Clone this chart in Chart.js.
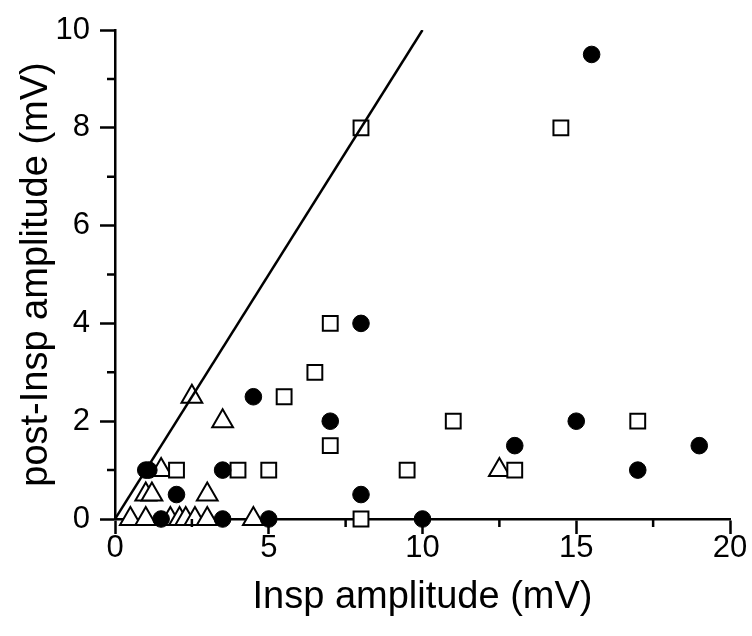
<!DOCTYPE html>
<html>
<head>
<meta charset="utf-8">
<script src="https://cdn.jsdelivr.net/npm/chart.js@4/dist/chart.umd.min.js"></script>
<style>
  html, body { margin: 0; padding: 0; background: #fff; }
  #wrap { width: 752px; height: 636px; }
</style>
</head>
<body>
<div id="wrap"><canvas id="chart" width="752" height="636"></canvas></div>
<script>
// filled circles
const circleX = [1, 1.1, 3.5, 4.5, 2, 1.5, 3.5, 5, 8, 7, 8, 10, 13, 15, 17, 19, 15.5];
const circleY = [1, 1, 1, 2.5, 0.5, 0, 0, 0, 4, 2, 0.5, 0, 1.5, 2, 1, 1.5, 9.5];

// open squares
const squareX = [2, 4, 5, 5.5, 6.5, 7, 7, 8, 8, 9.5, 11, 13, 14.5, 17];
const squareY = [1, 1, 1, 2.5, 3, 4, 1.5, 8, 0, 1, 2, 1, 8, 2];

// open triangles
const triangleX = [2.5, 3.5, 1.5, 1, 1.2, 3, 12.5, 0.5, 1, 1.8, 2.1, 2.3, 2.6, 3, 4.5];
const triangleY = [2.5, 2, 1, 0.5, 0.5, 0.5, 1, 0, 0, 0, 0, 0, 0, 0, 0];

// identity line
const lineX = [0, 10];
const lineY = [0, 10];

const xMinorTicks = [2.5, 7.5, 12.5, 17.5];
const yMinorTicks = [1, 3, 5, 7, 9];

const pts = (xs, ys) => xs.map((x, i) => ({ x, y: ys[i] }));

const family = "'Liberation Sans', Arial, Helvetica, sans-serif";

const minorTicks = {
  id: 'minorTicks',
  afterDraw(chart) {
    const { ctx, scales: { x, y } } = chart;
    ctx.save();
    ctx.strokeStyle = '#000';
    ctx.lineWidth = 2.5;
    ctx.beginPath();
    xMinorTicks.forEach(v => {
      const px = x.getPixelForValue(v);
      ctx.moveTo(px, y.bottom);
      ctx.lineTo(px, y.bottom + 8);
    });
    yMinorTicks.forEach(v => {
      const py = y.getPixelForValue(v);
      ctx.moveTo(x.left, py);
      ctx.lineTo(x.left - 8, py);
    });
    ctx.stroke();
    ctx.restore();
  }
};

new Chart(document.getElementById('chart'), {
  type: 'scatter',
  data: {
    datasets: [
      {
        type: 'line',
        data: pts(lineX, lineY),
        borderColor: '#000',
        borderWidth: 2.5,
        pointRadius: 0,
        fill: false,
        order: 0
      },
      {
        data: pts(circleX, circleY),
        pointStyle: 'circle',
        pointRadius: 8.3,
        backgroundColor: '#000',
        borderColor: '#000',
        borderWidth: 1,
        clip: false,
        order: 1
      },
      {
        data: pts(squareX, squareY),
        pointStyle: 'rect',
        pointRadius: 10.5,
        backgroundColor: '#fff',
        borderColor: '#000',
        borderWidth: 2,
        clip: false,
        order: 2
      },
      {
        data: pts(triangleX, triangleY),
        pointStyle: 'triangle',
        pointRadius: 12,
        backgroundColor: '#fff',
        borderColor: '#000',
        borderWidth: 2,
        clip: false,
        order: 3
      }
    ]
  },
  options: {
    responsive: false,
    animation: false,
    layout: { padding: { top: 30, right: 22, bottom: 0, left: 0 } },
    plugins: {
      legend: { display: false },
      tooltip: { enabled: false }
    },
    scales: {
      x: {
        type: 'linear',
        min: 0,
        max: 20,
        afterFit: scale => { scale.height = 117; },
        ticks: {
          stepSize: 5,
          color: '#000',
          padding: -4,
          font: { family, size: 31 }
        },
        grid: {
          drawOnChartArea: false,
          tickLength: 15,
          tickWidth: 2.5,
          tickColor: '#000'
        },
        border: { color: '#000', width: 2.5 },
        title: {
          display: true,
          text: 'Insp amplitude (mV)',
          color: '#000',
          font: { family, size: 38 },
          padding: { top: 0, bottom: 16 }
        }
      },
      y: {
        min: 0,
        max: 10,
        afterFit: scale => { scale.width = 115; },
        ticks: {
          stepSize: 2,
          color: '#000',
          padding: 10,
          font: { family, size: 31 }
        },
        grid: {
          drawOnChartArea: false,
          tickLength: 15,
          tickWidth: 2.5,
          tickColor: '#000'
        },
        border: { color: '#000', width: 2.5 },
        title: {
          display: true,
          text: 'post-Insp amplitude (mV)',
          color: '#000',
          font: { family, size: 38 },
          padding: { top: 14, bottom: 0 }
        }
      }
    }
  },
  plugins: [minorTicks]
});
</script>
</body>
</html>
